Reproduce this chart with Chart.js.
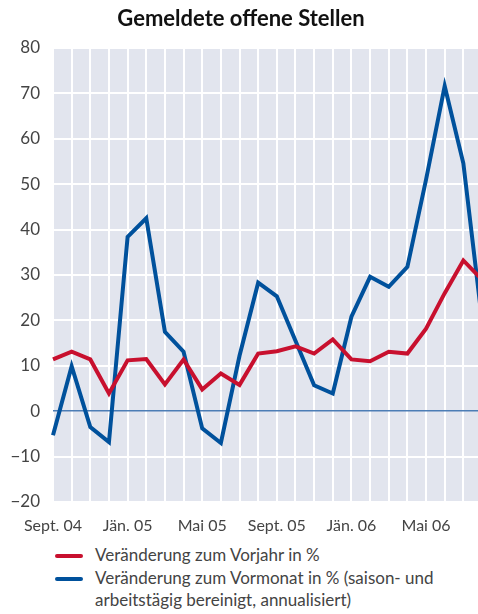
<!DOCTYPE html>
<html>
<head>
<meta charset="utf-8">
<script src="https://cdn.jsdelivr.net/npm/chart.js@4"></script>
<style>
  html, body { margin: 0; padding: 0; overflow: hidden; background: #fff; width: 478px; height: 614px; }
  #stellenChart { display: block; }
  .legend { margin-top: 4px; color: #444; font-family: Lato, "Open Sans", sans-serif; font-size: 17px; line-height: 22.5px; }
  .item { position: relative; margin-left: 95px; width: 360px; }
  .swatch { position: absolute; left: -40px; top: 10px; width: 28px; height: 4px; border-radius: 2px; }
</style>
</head>
<body>
<canvas id="stellenChart" width="482" height="540"></canvas>
<div class="legend">
  <div class="item"><span class="swatch" style="background:#C8102E"></span>Veränderung zum Vorjahr in %</div>
  <div class="item"><span class="swatch" style="background:#00519C"></span>Veränderung zum Vormonat in % (saison- und arbeitstägig bereinigt, annualisiert)</div>
</div>
<script>
// Months Sept. 04 – Aug. 06
const months = ['Sept. 04', 'Okt. 04', 'Nov. 04', 'Dez. 04', 'Jän. 05', 'Feb. 05', 'März 05', 'Apr. 05',
  'Mai 05', 'Juni 05', 'Juli 05', 'Aug. 05', 'Sept. 05', 'Okt. 05', 'Nov. 05', 'Dez. 05',
  'Jän. 06', 'Feb. 06', 'März 06', 'Apr. 06', 'Mai 06', 'Juni 06', 'Juli 06', 'Aug. 06'];
const shownMonths = ['Sept. 04', 'Jän. 05', 'Mai 05', 'Sept. 05', 'Jän. 06', 'Mai 06'];

// Veränderung zum Vorjahr in %
const vorjahr = [11.4, 13.1, 11.4, 3.9, 11.2, 11.5, 5.9, 11.4, 4.8, 8.3, 5.8, 12.7,
  13.2, 14.3, 12.7, 15.8, 11.4, 11.0, 13.1, 12.7, 18.2, 26.0, 33.2, 29.0];
// Veränderung zum Vormonat in % (saisonbereinigt, annualisiert)
const vormonat = [-5.3, 9.9, -3.5, -6.8, 38.4, 42.5, 17.5, 13.1, -3.8, -7.0, 12.2, 28.3,
  25.3, 15.5, 5.7, 3.9, 20.8, 29.6, 27.4, 31.8, 51.0, 71.6, 54.6, 20.0];

const yTicks = [-20, -10, 0, 10, 20, 30, 40, 50, 60, 70, 80];

const plotBg = {
  id: 'plotBg',
  beforeDraw(chart) {
    const { ctx, chartArea: a } = chart;
    ctx.save();
    ctx.fillStyle = '#E2E5EE';
    ctx.fillRect(a.left, a.top, a.right - a.left, a.bottom - a.top);
    ctx.restore();
  }
};

const ctx = document.getElementById('stellenChart').getContext('2d');
new Chart(ctx, {
  type: 'line',
  data: {
    labels: months,
    datasets: [{
      label: 'Veränderung zum Vorjahr in %',
      data: vorjahr,
      borderColor: '#C8102E',
      borderWidth: 4,
      pointRadius: 0,
      tension: 0
    }, {
      label: 'Veränderung zum Vormonat in %',
      data: vormonat,
      borderColor: '#00519C',
      borderWidth: 4,
      pointRadius: 0,
      tension: 0
    }]
  },
  options: {
    responsive: false,
    animation: false,
    layout: { padding: 0 },
    plugins: {
      legend: { display: false },
      tooltip: { enabled: false },
      title: {
        display: true,
        text: 'Gemeldete offene Stellen',
        color: '#111',
        font: { family: 'Lato', size: 22, weight: 'bold' },
        padding: { top: 6, bottom: 15.6 }
      }
    },
    scales: {
      x: {
        offset: false,
        afterFit(scale) { scale.height = 38; scale.paddingLeft = 0; scale.paddingRight = 0; },
        grid: { color: '#fff', lineWidth: 2, drawTicks: false },
        border: { display: false },
        ticks: {
          autoSkip: false,
          maxRotation: 0,
          padding: 14,
          color: '#444',
          font: { family: 'Lato', size: 16 },
          callback(v, i) { return shownMonths.includes(months[i]) ? months[i] : ''; }
        }
      },
      y: {
        min: -20,
        max: 80,
        afterFit(scale) { scale.width = 53; },
        afterBuildTicks(scale) { scale.ticks = yTicks.map(v => ({ value: v })); },
        grid: {
          color: c => c.tick && c.tick.value === 0 ? '#4C7DB5' : '#fff',
          lineWidth: c => c.tick && c.tick.value === 0 ? 1.5 : 2,
          drawTicks: false
        },
        border: { display: false },
        ticks: {
          padding: 13,
          color: '#444',
          font: { family: 'Lato', size: 17 },
          callback: v => String(v).replace('-', '\u2212')
        }
      }
    }
  },
  plugins: [plotBg]
});
</script>
</body>
</html>
